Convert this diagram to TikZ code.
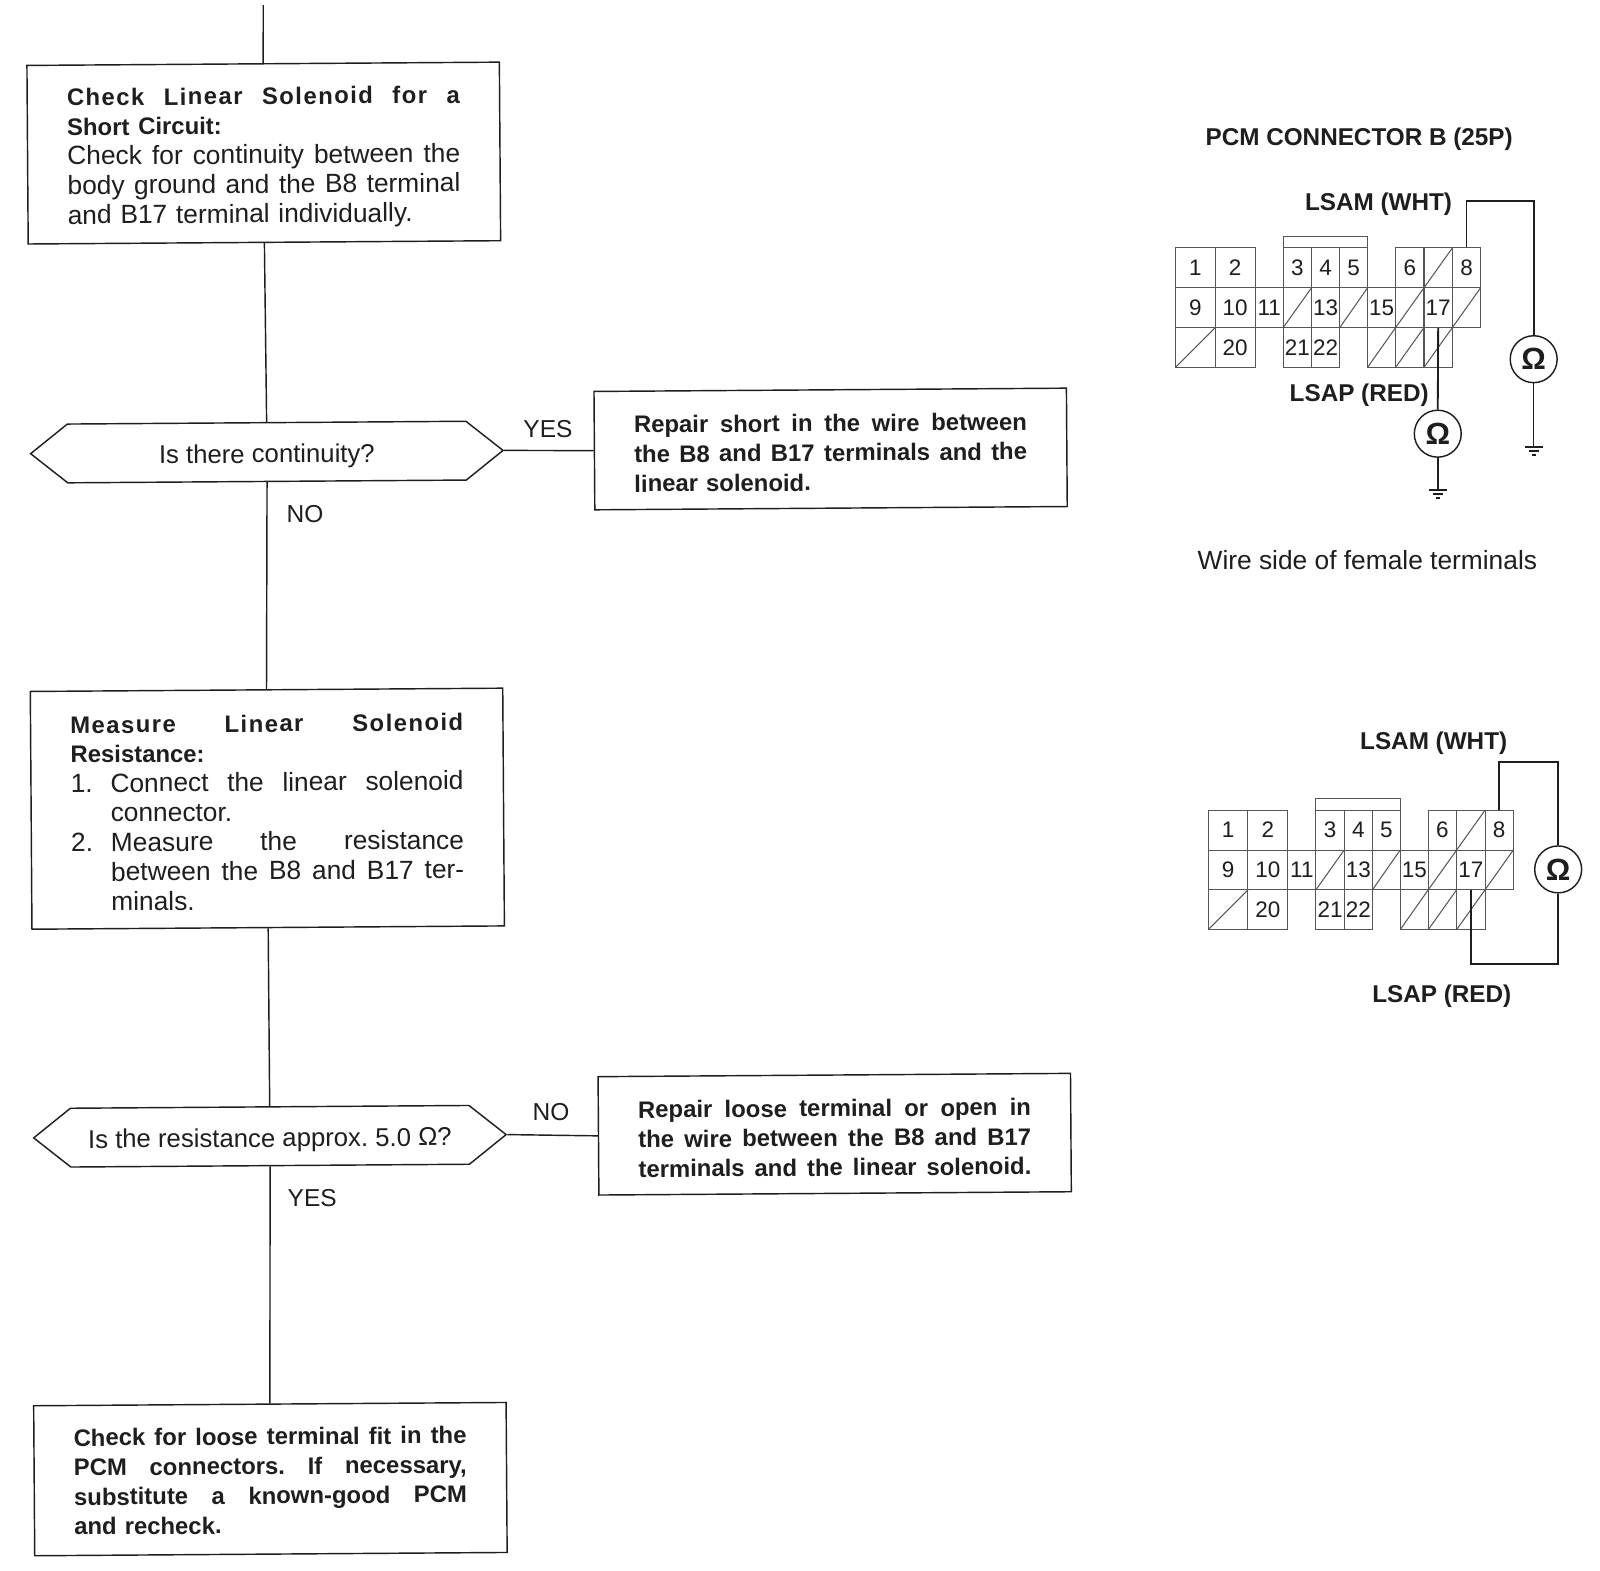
\documentclass[tikz,border=0pt]{standalone}
\usepackage{fontspec}
\setmainfont{Liberation Sans}
\usetikzlibrary{shapes.symbols}
\definecolor{ink}{HTML}{1E1E1E}
\newcommand\stretchsp{\spaceskip=.3333em plus 1fil\relax\xspaceskip=.3333em plus 1fil\relax}
\newcommand\jl[1]{\makebox[192.5pt][s]{\stretchsp #1}}
\newcommand\jlw[2]{\makebox[#1][s]{\stretchsp #2}}
\newcommand\sjl[1]{\makebox[192.5pt][s]{\addfontfeature{LetterSpace=6}\stretchsp #1}}
\newcommand\numl[2]{\makebox[192.5pt][s]{\stretchsp\makebox[19.5pt][l]{#1}#2}}
\newcommand\bodyf{\fontsize{12.9}{14.5}\selectfont}
\newcommand\difft[1]{\raisebox{-5.25pt}[0pt][0pt]{#1}}
\newcommand\pinblock{%
  \foreach \xa/\w/\ya/\lab in {0/39/0/1,39/39/0/2,105.6/27.7/0/3,133.3/27.7/0/4,161/27.2/0/5,215.7/27.8/0/6,271.3/27.7/0/8,
      0/39/39/9,39/39/39/10,78/27.6/39/11,133.3/27.7/39/13,188.2/27.5/39/15,243.5/27.8/39/17,
      39/39/78/20,105.6/27.7/78/21,133.3/27.7/78/22}{
    \node[pincell,minimum width=\w*0.5pt,minimum height=19.5pt] (\lab) at ({\xa+\w/2},{\ya+19.5}) {\lab};
  }
  \foreach \xa/\w/\ya in {243.5/27.8/0,105.6/27.7/39,161/27.2/39,215.7/27.8/39,271.3/27.7/39,
      0/39/78,188.2/27.5/78,215.7/27.8/78,243.5/27.8/78}{
    \draw[gridline] (\xa,\ya) rectangle ++(\w,39);
    \draw[gridline] (\xa,\ya+39) -- ++(\w,-39);
  }
  \draw[gridline] (105.6,0) -- ++(0,-11.5) -- ++(83,0) -- ++(0,11.5);
}
\tikzset{
  flowbox/.style={draw=ink,line width=0.7pt,text=ink,rotate=0.4,text width=192.5pt,align=left,
     minimum width=231.5pt,inner xsep=19.5pt,inner ysep=0pt,font=\fontsize{11.7}{14.5}\selectfont\bfseries,
     execute at begin node={\rule{0pt}{\firstline}}},
  plainbox/.style={flowbox,font=\bodyf\mdseries},
  decide/.style={draw=ink,line width=0.7pt,text=ink,shape=signal,signal to=west and east,signal pointer angle=77,
     rotate=0.4,minimum width=231.5pt,minimum height=28.8pt,inner sep=0pt,font=\fontsize{12.6}{14.6}\selectfont\frenchspacing},
  link/.style={draw=ink,line width=0.7pt},
  lab/.style={text=ink,inner sep=0pt,font=\fontsize{12}{14}\selectfont},
  sidelab/.style={text=ink,inner sep=0pt,font=\fontsize{12.9}{14}\selectfont},
  pincell/.style={draw=ink!75,line width=0.5pt,text=ink,inner sep=0pt,font=\fontsize{11}{12}\selectfont},
  gridline/.style={draw=ink!75,line width=0.5pt},
  wire/.style={draw=ink,line width=0.9pt,line join=miter},
  boldlab/.style={text=ink,inner sep=0pt,font=\bfseries\fontsize{11.9}{14}\selectfont},
  ohm/.style={draw=ink,line width=0.7pt,circle,minimum size=23pt,inner sep=0pt,text=ink,font=\bfseries\fontsize{15}{15}\selectfont},
  earth/.style={draw=ink,line width=0.8pt}
}
\newcommand\firstline{13pt}
\begin{document}
\begin{tikzpicture}[x=0.5pt,y=-0.5pt]
\useasboundingbox[fill=white] (0,0) rectangle (1568,1538.6);
% flow chart
\coordinate (start) at (258,5);
\node[plainbox,minimum height=87.5pt] (b1) at (258.5,150) {\textbf{\fontsize{11.7}{14.5}\selectfont\sjl{Check Linear Solenoid for a}}\\
  \textbf{\fontsize{11.7}{14.5}\selectfont Short Circuit:}\\ \jl{Check for continuity between the}\\ \jl{body ground and the B8 terminal}\\ and B17 terminal individually.};
\node[decide] (d1) at (261.5,443) {\difft{Is there continuity?}};
\renewcommand\firstline{12pt}
\node[flowbox,minimum height=58pt] (b2) at (814,440) {\jl{Repair short in the wire between}\\ \jl{the B8 and B17 terminals and the}\\ linear solenoid.};
\node[plainbox,minimum height=116.5pt] (b3) at (262,792.5) {\textbf{\fontsize{11.7}{14.5}\selectfont\sjl{Measure Linear Solenoid}}\\ \textbf{\fontsize{11.7}{14.5}\selectfont Resistance:}\\
  \numl{1.}{Connect the linear solenoid}\\ \hspace*{19.5pt}connector.\\ \numl{2.}{Measure the resistance}\\
  \hspace*{19.5pt}\jlw{173pt}{between the B8 and B17 ter-}\\ \hspace*{19.5pt}minals.};
\node[decide] (d2) at (264.5,1113.5) {\difft{Is the resistance approx. 5.0 Ω?}};
\node[flowbox,minimum height=58pt] (b4) at (818,1111.5) {\jl{Repair loose terminal or open in}\\ \jl{the wire between the B8 and B17}\\ \jl{terminals and the linear solenoid.}};
\renewcommand\firstline{10pt}
\node[flowbox,minimum height=73.5pt] (b5) at (265,1449.5) {\jl{Check for loose terminal fit in the}\\ \jl{PCM connectors. If necessary,}\\ \jl{substitute a known-good PCM}\\ and recheck.};
\draw[link] (start) -- (b1.north);
\draw[link] (b1.south) -- (d1.north);
\draw[link] (d1.south) -- (b3.north);
\draw[link] (d1.east) -- (b2.west);
\draw[link] (b3.south) -- (d2.north);
\draw[link] (d2.south) -- (b5.north);
\draw[link] (d2.east) -- (b4.west);
\node[lab] (ly) at (537,420) {YES};
\node[lab] (ln) at (299,504) {NO};
\node[lab] (ln2) at (540,1090) {NO};
\node[lab] (ly2) at (306,1174) {YES};
% upper connector
\node[boldlab] (t1) at (1332,136) {PCM CONNECTOR B (25P)};
\node[boldlab] (t2) at (1351,200) {LSAM (WHT)};
\node[boldlab] (t3) at (1332,387) {LSAP (RED)};
\node[sidelab] (t4) at (1340,549) {Wire side of female terminals};
\begin{scope}[shift={(1152,243)},name prefix=a-]
  \pinblock
\end{scope}
\node[ohm] (o1) at (1409,425) {Ω};
\node[ohm] (o2) at (1503,352) {Ω};
\coordinate (w1) at (1503,197);
\coordinate (g1) at (1409,480);
\coordinate (g2) at (1503,438);
\draw[wire] (a-8.north) |- (w1) -- (o2.north);
\draw[link] (o2.south) -- (g2);
\draw[wire] (a-17.south) -- (o1.north);
\draw[wire] (o1.south) -- (g1);
\draw[earth] (g1) ++(-9,0) -- ++(18,0) ++(-14,4) -- ++(10,0) ++(-7,4) -- ++(4,0);
\draw[earth] (g2) ++(-9,0) -- ++(18,0) ++(-14,4) -- ++(10,0) ++(-7,4) -- ++(4,0);
% lower connector
\node[boldlab] (t5) at (1405,728) {LSAM (WHT)};
\node[boldlab] (t6) at (1413,976) {LSAP (RED)};
\begin{scope}[shift={(1184,794)},name prefix=b-]
  \pinblock
\end{scope}
\node[ohm] (o3) at (1527,852) {Ω};
\coordinate (w2) at (1527,747);
\coordinate (w3) at (1527,945);
\draw[wire] (b-8.north) |- (w2) -- (o3.north);
\draw[wire] (o3.south) -- (w3) -| (b-17.south);
\end{tikzpicture}
\end{document}
